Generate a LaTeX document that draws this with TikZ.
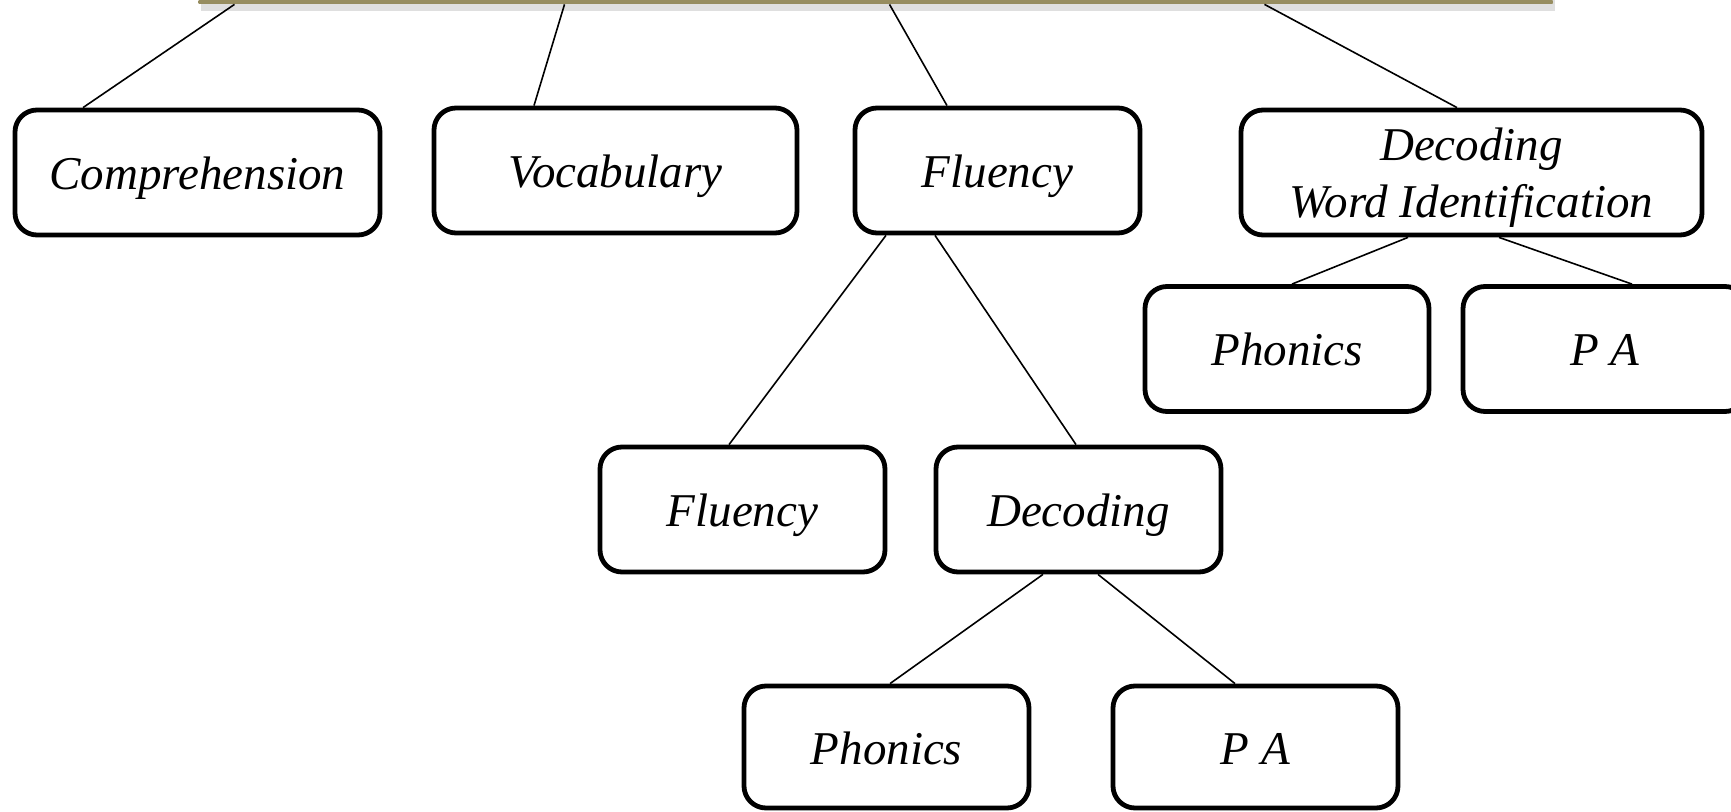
\documentclass[tikz,border=0pt]{standalone}
\usepackage{fontspec}
\setmainfont{Liberation Serif}
\usepackage{tikz}
\usetikzlibrary{calc,shadows}
\definecolor{barolive}{RGB}{150,140,95}

\begin{document}
\begin{tikzpicture}[x=0.5pt, y=-0.5pt,
  box/.style = {shape=rectangle, rounded corners=11pt, draw, line width=2.4pt,
    fill=white, align=center, inner sep=0pt, minimum height=62.5pt,
    text height=22pt, text depth=5pt,
    font=\fontsize{23.5}{28.3}\selectfont\itshape},
  topbar/.style = {shape=rectangle, draw=none, top color=barolive!85!white,
    bottom color=barolive, minimum width=677pt, minimum height=34pt,
    drop shadow={opacity=0.25, shadow xshift=1pt, shadow yshift=-3.5pt}},
  link/.style = {line width=0.8pt}]
  \clip (0,0) rectangle (1731,812);
  \node[topbar] (top) at (875.5,-30) {};
  % first row
  \node[box, minimum width=182.5pt] (comp)  at (197.5,172.5) {Comprehension};
  \node[box, minimum width=181.5pt] (vocab) at (615.5,170.5) {Vocabulary};
  \node[box, minimum width=142.5pt] (flu)   at (997.5,170.5) {Fluency};
  \node[box, minimum width=230.5pt, text height=50pt] (dec) at (1471.5,172.5) {Decoding\\ Word Identification};
  % under Decoding / Word Identification
  \node[box, minimum width=142pt] (phonA) at (1287,349) {Phonics};
  \node[box, minimum width=142pt] (paA)   at (1605,349) {P A};
  % under Fluency
  \node[box, minimum width=142.5pt] (fluB) at (742.5,509.5) {Fluency};
  \node[box, minimum width=142.5pt] (decB) at (1078.5,509.5) {Decoding};
  \node[box, minimum width=142.5pt, minimum height=61pt] (phonB) at (886.5,747) {Phonics};
  \node[box, minimum width=142.5pt, minimum height=61pt] (paB)   at (1255.5,747) {P A};
  % connectors
  \draw[link] ($(top.south)+(-641,0)$) -- ($(comp.north)+(-114.5,0)$);
  \draw[link] ($(top.south)+(-311,0)$) -- ($(vocab.north)+(-81.5,0)$);
  \draw[link] ($(top.south)+(14,0)$) -- ($(flu.north)+(-50.5,0)$);
  \draw[link] ($(top.south)+(389,0)$) -- ($(dec.north)+(-14.5,0)$);
  \draw[link] ($(flu.south)+(-111.5,0)$) -- ($(fluB.north)+(-13.5,0)$);
  \draw[link] ($(flu.south)+(-62.5,0)$) -- ($(decB.north)+(-2.5,0)$);
  \draw[link] ($(decB.south)+(-35.5,0)$) -- ($(phonB.north)+(3.5,0)$);
  \draw[link] ($(decB.south)+(19.5,0)$) -- ($(paB.north)+(-20.5,0)$);
  \draw[link] ($(dec.south)+(-63.5,0)$) -- ($(phonA.north)+(5,0)$);
  \draw[link] ($(dec.south)+(27.5,0)$) -- ($(paA.north)+(27,0)$);
\end{tikzpicture}
\end{document}
